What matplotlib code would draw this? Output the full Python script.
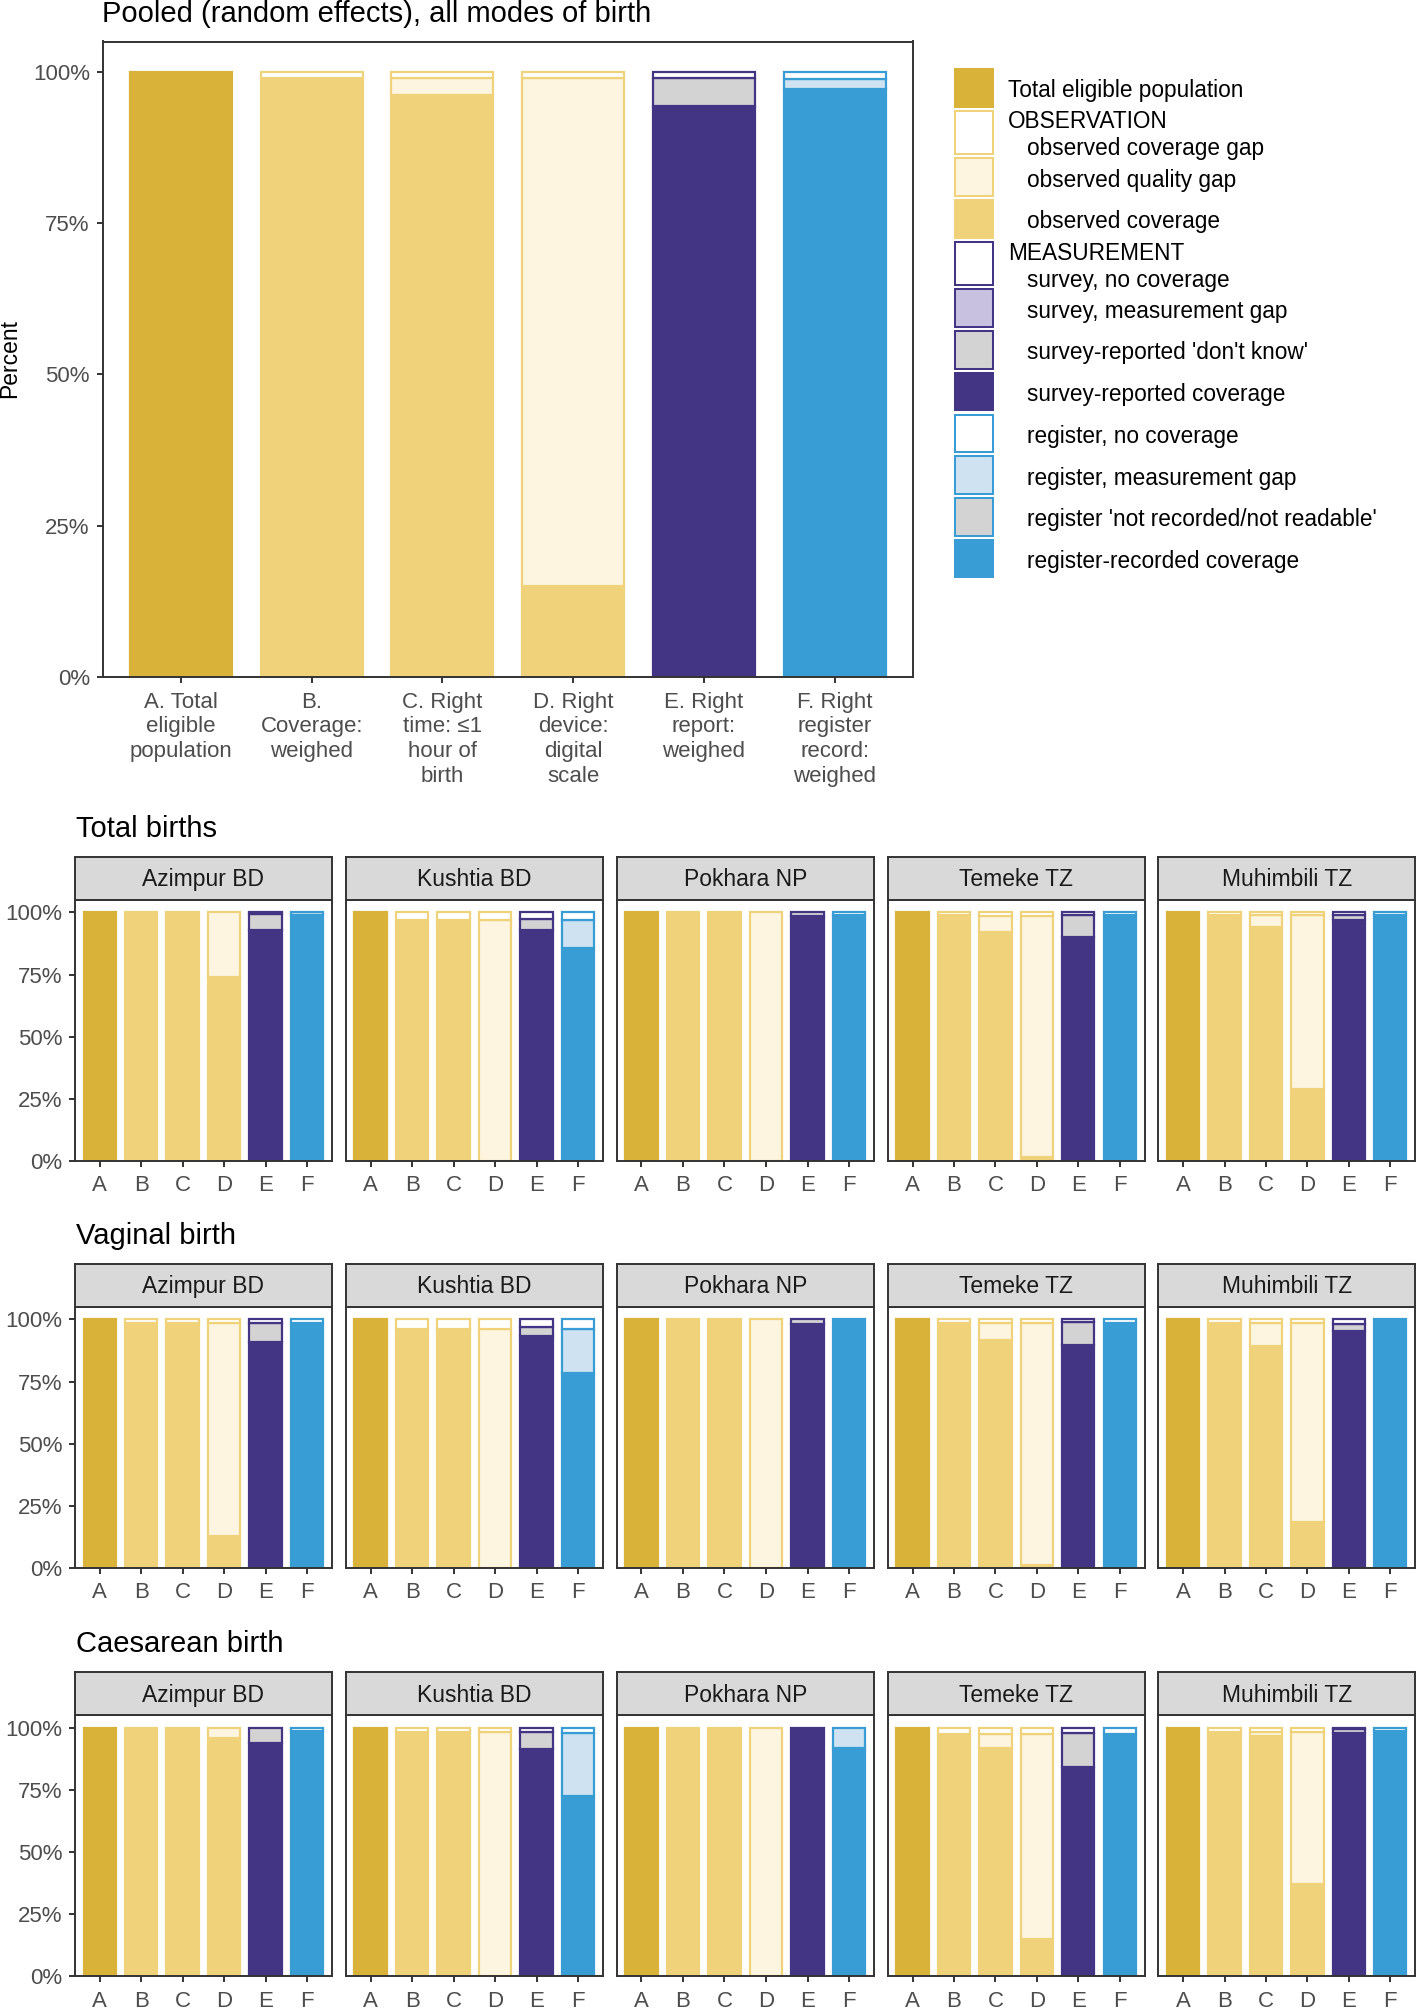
import numpy as np
import matplotlib
matplotlib.use("Agg")
import matplotlib.pyplot as plt
from matplotlib.patches import Rectangle

plt.rcParams['font.family'] = ['Liberation Sans', 'DejaVu Sans']

W, H = 1418, 2009

# colours
GOLD = '#D9B23A'
YEL = '#F0D27B'
CREAM = '#FDF5E0'
WHITE = '#FFFFFF'
PURPLE = '#433584'
LAV = '#C8C2E0'
GRAY = '#D3D3D3'
BLUE = '#379DD4'
LBLUE = '#CFE2F1'

pooled_labels = ["A. Total\neligible\npopulation", "B.\nCoverage:\nweighed",
                 "C. Right\ntime: \u22641\nhour of\nbirth", "D. Right\ndevice:\ndigital\nscale",
                 "E. Right\nreport:\nweighed", "F. Right\nregister\nrecord:\nweighed"]
bar_letters = ["A", "B", "C", "D", "E", "F"]
sites = ["Azimpur BD", "Kushtia BD", "Pokhara NP", "Temeke TZ", "Muhimbili TZ"]
modes = ["Total births", "Vaginal birth", "Caesarean birth"]
yticks = [0, 25, 50, 75, 100]
ytick_labels = ["0%", "25%", "50%", "75%", "100%"]

# observation bars, percent:
# B coverage, B coverage gap, C coverage, C quality gap, C coverage gap, D coverage, D quality gap, D coverage gap
pooled_obs = [99.0, 1.0, 96.1, 2.9, 1.0, 15.0, 84.0, 1.0]
# measurement bars, percent:
# E coverage, E don't know, E meas. gap, E no coverage, F coverage, F not recorded, F meas. gap, F no coverage
pooled_meas = [94.3, 4.7, 0.0, 1.0, 97.2, 0.0, 1.6, 1.2]

total_obs = [
    [100, 0, 100, 0, 0, 74, 26, 0],
    [97, 3, 97, 0, 3, 0, 97, 3],
    [100, 0, 100, 0, 0, 0, 100, 0],
    [98.8, 1.2, 92.2, 6.3, 1.5, 1.5, 97, 1.5],
    [99, 1, 94.1, 4.7, 1.2, 29.1, 69.7, 1.2],
]
total_meas = [
    [93, 6.5, 0, 0.5, 98.8, 0, 1.2, 0],
    [92.9, 4.6, 0, 2.5, 85.5, 0, 11.3, 3.2],
    [98.6, 1.4, 0, 0, 98.8, 0, 0, 1.2],
    [90, 8.8, 0, 1.2, 99, 0, 0, 1],
    [96.8, 2.0, 0, 1.2, 98.8, 0, 0, 1.2],
]
vaginal_obs = [
    [98.5, 1.5, 98.5, 0, 1.5, 13, 85.5, 1.5],
    [96.3, 3.7, 95.3, 1.0, 3.7, 0, 96.3, 3.7],
    [100, 0, 100, 0, 0, 0, 100, 0],
    [98.5, 1.5, 91.7, 6.8, 1.5, 1.3, 97.2, 1.5],
    [98.7, 1.3, 89.3, 9.2, 1.5, 18.4, 80.1, 1.5],
]
vaginal_meas = [
    [90.8, 7.6, 0, 1.6, 98.5, 0, 0, 1.5],
    [93.5, 3.6, 0, 2.9, 78.5, 0, 17.6, 3.9],
    [98, 2, 0, 0, 100, 0, 0, 0],
    [89.7, 9.3, 0, 1.0, 98.7, 0, 0, 1.3],
    [95.3, 2.8, 0, 1.9, 100, 0, 0, 0],
]
caesarean_obs = [
    [100, 0, 100, 0, 0, 96, 4, 0],
    [98.4, 1.6, 98.4, 0, 1.6, 0, 98.4, 1.6],
    [100, 0, 100, 0, 0, 0, 100, 0],
    [97.5, 2.5, 91.7, 5.8, 2.5, 14.9, 82.6, 2.5],
    [98.3, 1.7, 96.8, 1.5, 1.7, 37.0, 61.3, 1.7],
]
caesarean_meas = [
    [93.7, 6.3, 0, 0, 98.7, 0, 0, 1.3],
    [91.3, 7.1, 0, 1.6, 72.5, 0, 25.5, 2.0],
    [100, 0, 0, 0, 91.7, 0, 8.3, 0],
    [84.3, 13.6, 0, 2.1, 97.5, 0, 0, 2.5],
    [98, 1.5, 0, 0.5, 98.5, 0, 0, 1.5],
]
mode_obs = [total_obs, vaginal_obs, caesarean_obs]
mode_meas = [total_meas, vaginal_meas, caesarean_meas]


def box(l, t, r, b):
    # pixel box -> figure fraction
    return [l / W, 1 - b / H, (r - l) / W, (b - t) / H]


def stacks(obs, meas):
    return [
        [(100, GOLD, GOLD)],
        [(obs[0], YEL, YEL), (obs[1], WHITE, YEL)],
        [(obs[2], YEL, YEL), (obs[3], CREAM, YEL), (obs[4], WHITE, YEL)],
        [(obs[5], YEL, YEL), (obs[6], CREAM, YEL), (obs[7], WHITE, YEL)],
        [(meas[0], PURPLE, PURPLE), (meas[1], GRAY, PURPLE), (meas[2], LAV, PURPLE), (meas[3], WHITE, PURPLE)],
        [(meas[4], BLUE, BLUE), (meas[5], GRAY, BLUE), (meas[6], LBLUE, BLUE), (meas[7], WHITE, BLUE)],
    ]


def draw_bars(ax, obs, meas, lw=1.6):
    for i, stack in enumerate(stacks(obs, meas)):
        bottom = 0
        for val, fc, ec in stack:
            if val > 0:
                ax.bar(i + 1, val, bottom=bottom, width=0.78, color=fc,
                       edgecolor=ec, linewidth=lw)
            bottom += val


def style(ax, ylab=True):
    ax.set_xlim(0.4, 6.6)
    ax.set_ylim(0, 105)
    ax.set_xticks(range(1, 7))
    ax.set_yticks(yticks)
    ax.set_yticklabels(ytick_labels)
    for s in ax.spines.values():
        s.set_color('#333333')
        s.set_linewidth(1.4)
    ax.tick_params(color='#333333', width=1.4, length=4.3, labelcolor='#4D4D4D', labelsize=16)
    ax.tick_params(axis='x', pad=6)
    ax.tick_params(axis='y', pad=4.8)
    if not ylab:
        ax.tick_params(axis='y', left=False, labelleft=False)


fig = plt.figure(figsize=(W / 100, H / 100), dpi=100)

# pooled panel
ax = fig.add_axes(box(102.5, 41.5, 913, 677.2))
draw_bars(ax, pooled_obs, pooled_meas)
style(ax)
ax.set_xticklabels(pooled_labels)
for lbl in ax.get_xticklabels():
    lbl.set_linespacing(1.24)
fig.text(102 / W, 1 - 22 / H, "Pooled (random effects), all modes of birth",
         fontsize=21, va='baseline', ha='left')
fig.text(10 / W, 1 - 359 / H, "Percent", rotation=90, fontsize=16.5, va='center', ha='center')

# site panels
panel_x = [(74.8, 332), (345.7, 603), (616.5, 874), (887.7, 1144.6), (1158.3, 1415.2)]
strip_tops = [856.7, 1263.7, 1672]
strip_h = 43.3
panel_h = 261

for m, mode in enumerate(modes):
    st = strip_tops[m]
    fig.text(76 / W, 1 - (st - 20) / H, mode, fontsize=21, va='baseline', ha='left')
    for s, site in enumerate(sites):
        l, r = panel_x[s]
        ax = fig.add_axes(box(l, st + strip_h, r, st + strip_h + panel_h))
        draw_bars(ax, mode_obs[m][s], mode_meas[m][s])
        style(ax, ylab=(s == 0))
        ax.set_xticklabels(bar_letters)
        sax = fig.add_axes(box(l, st, r, st + strip_h))
        sax.set_facecolor('#D9D9D9')
        sax.set_xticks([])
        sax.set_yticks([])
        for sp in sax.spines.values():
            sp.set_color('#333333')
            sp.set_linewidth(1.4)
        sax.text(0.5, (strip_h / 2 - 8) / strip_h, site, transform=sax.transAxes,
                 ha='center', va='baseline', fontsize=16.5, color='#1A1A1A')

# legend
legend_entries = [
    ("Total eligible population", None, GOLD, GOLD),
    ("OBSERVATION", "observed coverage gap", WHITE, YEL),
    (None, "observed quality gap", CREAM, YEL),
    (None, "observed coverage", YEL, YEL),
    ("MEASUREMENT", "survey, no coverage", WHITE, PURPLE),
    (None, "survey, measurement gap", LAV, PURPLE),
    (None, "survey-reported 'don't know'", GRAY, PURPLE),
    (None, "survey-reported coverage", PURPLE, PURPLE),
    (None, "register, no coverage", WHITE, BLUE),
    (None, "register, measurement gap", LBLUE, BLUE),
    (None, "register 'not recorded/not readable'", GRAY, BLUE),
    (None, "register-recorded coverage", BLUE, BLUE),
]
lax = fig.add_axes([0, 0, 1, 1])
lax.set_xlim(0, W)
lax.set_ylim(H, 0)
lax.axis('off')
y = 67.9
for head, sub, fc, ec in legend_entries:
    h = 45.7 if (head and sub) else 39.7
    lax.add_patch(Rectangle((955, y + 1), 38, h - 2, facecolor=fc, edgecolor=ec, linewidth=1.45))
    c = y + h / 2 + 3
    if head and sub:
        lax.text(1007.7, c - 13.5, head, va='center', ha='left', fontsize=16.3)
        lax.text(1026.7, c + 13.5, sub, va='center', ha='left', fontsize=16.3)
    elif head:
        lax.text(1007.7, c, head, va='center', ha='left', fontsize=16.3)
    else:
        lax.text(1026.7, c, sub, va='center', ha='left', fontsize=16.3)
    y += h + 2

fig.savefig("out.png", dpi=100)
